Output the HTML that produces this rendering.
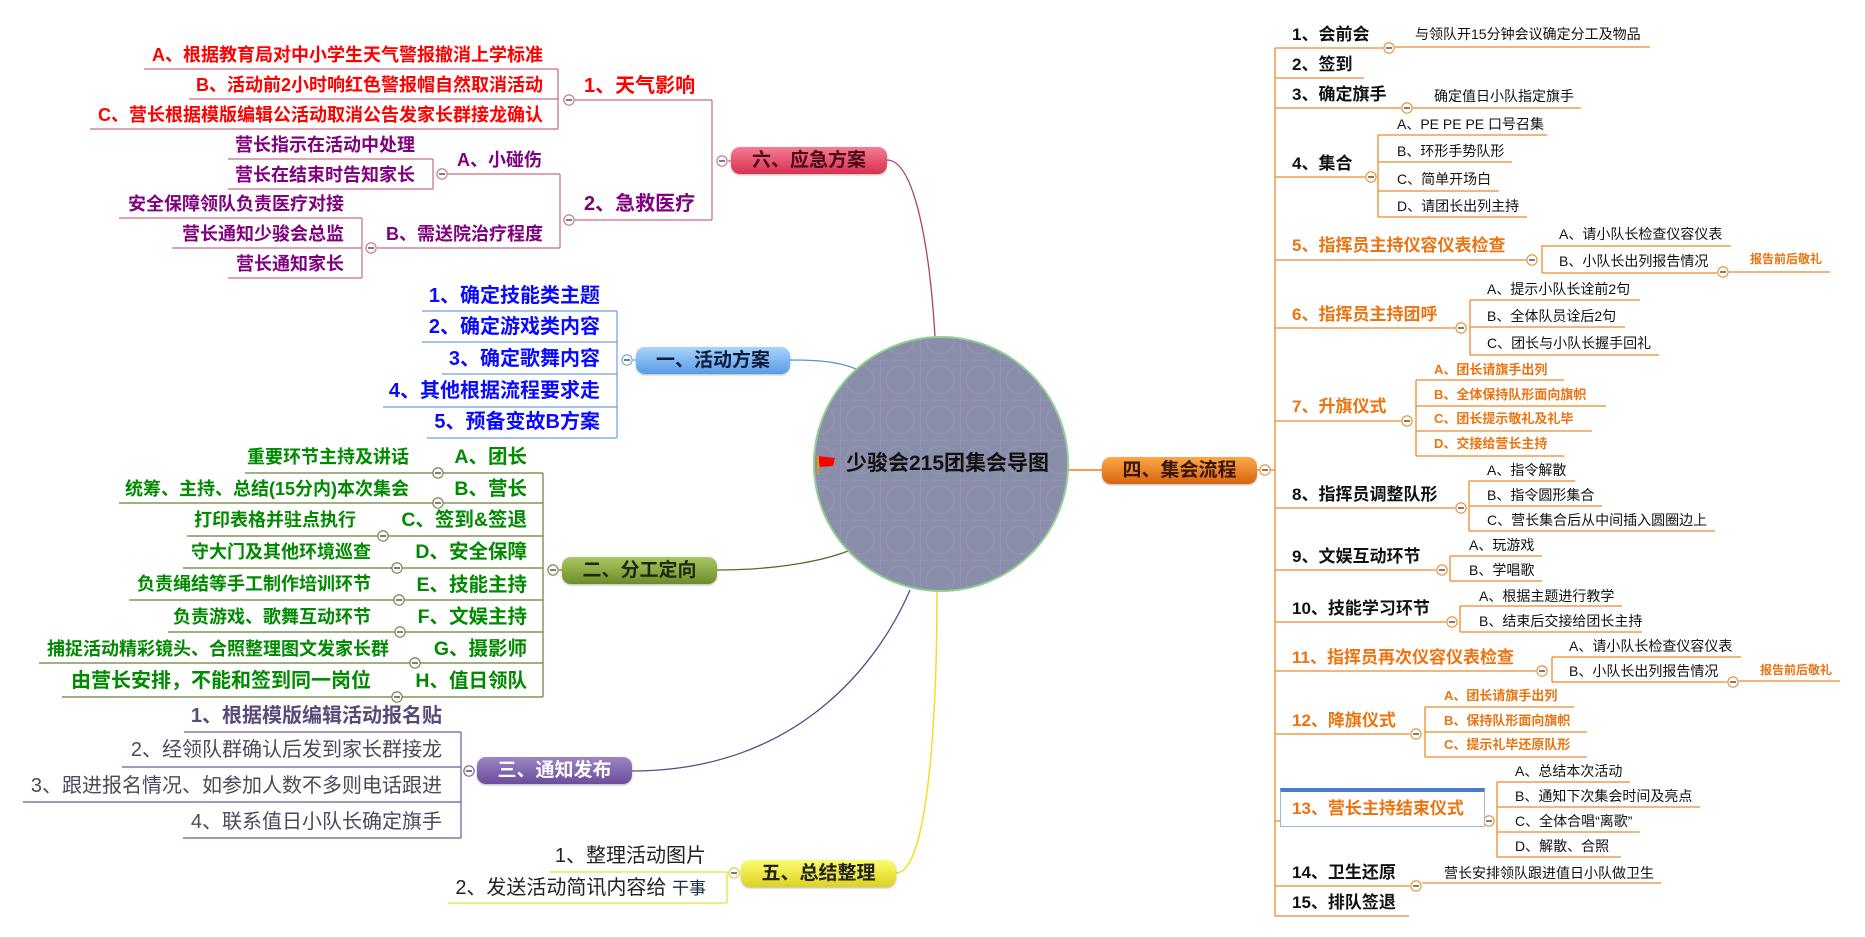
<!DOCTYPE html>
<html><head><meta charset="utf-8">
<style>
body{margin:0;width:1865px;height:937px;background:#fff;position:relative;overflow:hidden;font-family:"Liberation Sans","Noto Sans CJK SC",sans-serif;}
.t{position:absolute;white-space:nowrap;line-height:1;}
.b{font-weight:bold;}
.r{color:#f00;font-size:18px;font-weight:bold;}
.p{color:#80007f;font-size:18px;font-weight:bold;}
.bl{color:#0a0aff;font-size:20px;font-weight:bold;}
.g{color:#008a00;font-weight:bold;}
.k{color:#111;font-size:17px;font-weight:bold;}
.o{color:#ec7310;font-size:17px;font-weight:bold;}
.s{color:#111;font-size:14px;}
.os{color:#ec7310;font-size:13px;font-weight:bold;}
.node{position:absolute;border-radius:9px;font-weight:bold;font-size:19px;text-align:center;line-height:27px;height:27px;width:155px;box-shadow:0 1px 2px rgba(0,0,0,.3);}
svg{position:absolute;left:0;top:0;}
</style></head><body>
<svg width="1865" height="937" viewBox="0 0 1865 937" fill="none">
<defs>
<pattern id="grid" width="40" height="40" patternUnits="userSpaceOnUse"><path d="M0 0H40M0 0V40" stroke="#a8aac4" stroke-width="1"/><circle cx="20" cy="20" r="14" stroke="#9ea0bc" stroke-width="1"/></pattern>
<symbol id="c" viewBox="-7 -7 14 14" overflow="visible"><circle r="6" fill="#fff" stroke="currentColor" stroke-width="1.3"/><path d="M-3.5 0H3.5" stroke="#333" stroke-width="1.5"/></symbol>
</defs>
<path d="M887,160 C915,160 930,250 935,337" stroke="#b0406a" stroke-width="1.3"/>
<path d="M790,360 C820,360 840,362 856,369" stroke="#5a90d0" stroke-width="1.3"/>
<path d="M717,570 C780,570 825,560 848,551" stroke="#5a6a2a" stroke-width="1.3"/>
<path d="M632,771 C800,771 880,660 910,590" stroke="#5a4a8a" stroke-width="1.3"/>
<path d="M896,873 C930,873 937,700 937,592" stroke="#f0e020" stroke-width="1.5"/>
<path d="M1068,470 H1102" stroke="#f0a050" stroke-width="2"/>
<circle cx="941" cy="464" r="127" fill="#8b8eab"/>
<circle cx="941" cy="464" r="127" fill="url(#grid)" opacity=".5"/>
<circle cx="941" cy="464" r="127" stroke="#8fd08f" stroke-width="2"/>
<path d="M818,456 L835,458 L833,466 L820,467 Z" fill="#f00"/><path d="M818,456 V474" stroke="#d8a000" stroke-width="2"/>

<g stroke="#c86a8a" stroke-width="1.2">
<path d="M144,69H558M189,99H558M90,129H558M558,69V129M575,100H712M712,100V220M728,161H731"/>
<path d="M228,159H433M228,189H433M433,159V189M448,174H560M560,174V248M575,220H712"/>
<path d="M119,218H362M172,248H362M228,278H362M362,218V278M377,248H560"/>
</g>
<use href="#c" x="563" y="94" width="12" height="12" style="color:#c86a8a"/>
<use href="#c" x="716" y="155" width="12" height="12" style="color:#c86a8a"/>
<use href="#c" x="436" y="168" width="12" height="12" style="color:#c86a8a"/>
<use href="#c" x="563" y="214" width="12" height="12" style="color:#c86a8a"/>
<use href="#c" x="365" y="242" width="12" height="12" style="color:#c86a8a"/>

<g stroke="#6aa0dc" stroke-width="1.2">
<path d="M422,311H617M422,342H617M442,374H617M383,407H617M427,438H617M617,311V438M633,360H636"/>
</g>
<use href="#c" x="621" y="354" width="12" height="12" style="color:#6aa0dc"/>

<g stroke="#6b7d3a" stroke-width="1.2">
<path d="M245,473H543M119,503H543M187,536H543M183,568H543M129,600H543M168,632H543M39,663H543M62,697H543M543,473V697M559,570H562"/>
</g>
<g style="color:#6b7d3a">
<use href="#c" x="432" y="467" width="12" height="12"/>
<use href="#c" x="432" y="497" width="12" height="12"/>
<use href="#c" x="377" y="530" width="12" height="12"/>
<use href="#c" x="391" y="562" width="12" height="12"/>
<use href="#c" x="393" y="594" width="12" height="12"/>
<use href="#c" x="394" y="626" width="12" height="12"/>
<use href="#c" x="409" y="657" width="12" height="12"/>
<use href="#c" x="391" y="691" width="12" height="12"/>
<use href="#c" x="547" y="564" width="12" height="12"/>
</g>

<g stroke="#6a5a9a" stroke-width="1.2">
<path d="M184,732H461M122,767H461M23,802H461M183,838H461M461,732V838"/>
</g>
<use href="#c" x="463" y="765" width="12" height="12" style="color:#6a5a9a"/>

<g stroke="#e8e040" stroke-width="1.3">
<path d="M549,872H727M448,903H727M727,872V903"/>
</g>
<use href="#c" x="728" y="867" width="12" height="12" style="color:#d8d030"/>

<g stroke="#ec8a2a" stroke-width="1.3">
<path d="M1257,470H1275M1275,48V916"/>
<path d="M1275,48H1383M1395,47H1650"/>
<path d="M1275,78H1364"/>
<path d="M1275,108H1401M1413,108H1581"/>
<path d="M1275,177H1365M1378,135V217M1378,135H1547M1378,162H1512M1378,191H1499M1378,217H1527"/>
<path d="M1275,260H1526M1542,245V273M1542,246H1731M1542,273H1717M1729,272H1830"/>
<path d="M1275,328H1455M1470,300V355M1470,300H1640M1470,327H1625M1470,355H1659"/>
<path d="M1275,421H1401M1416,380V456M1416,380H1564M1416,406H1606M1416,431H1592M1416,456H1564"/>
<path d="M1275,508H1455M1469,481V531M1469,481H1575M1469,506H1602M1469,531H1715"/>
<path d="M1275,570H1436M1450,556V581M1450,556H1542M1450,581H1542"/>
<path d="M1275,622H1446M1460,606V632M1460,606H1622M1460,632H1642"/>
<path d="M1275,671H1536M1552,657V682M1552,657H1741M1552,682H1727M1739,681H1840"/>
<path d="M1275,734H1410M1425,707V757M1425,707H1574M1425,732H1587M1425,757H1587"/>
<path d="M1275,821H1280M1497,782V857M1497,782H1630M1497,807H1700M1497,832H1640M1497,857H1621"/>
<path d="M1275,886H1410M1422,883H1661"/>
<path d="M1275,916H1409"/>
</g>
<g style="color:#ec8a2a">
<use href="#c" x="1259" y="464" width="12" height="12"/>
<use href="#c" x="1383" y="42" width="12" height="12"/>
<use href="#c" x="1401" y="102" width="12" height="12"/>
<use href="#c" x="1365" y="171" width="12" height="12"/>
<use href="#c" x="1526" y="254" width="12" height="12"/>
<use href="#c" x="1717" y="266" width="12" height="12"/>
<use href="#c" x="1455" y="322" width="12" height="12"/>
<use href="#c" x="1401" y="415" width="12" height="12"/>
<use href="#c" x="1455" y="502" width="12" height="12"/>
<use href="#c" x="1436" y="564" width="12" height="12"/>
<use href="#c" x="1446" y="616" width="12" height="12"/>
<use href="#c" x="1536" y="665" width="12" height="12"/>
<use href="#c" x="1727" y="676" width="12" height="12"/>
<use href="#c" x="1410" y="728" width="12" height="12"/>
<use href="#c" x="1483" y="815" width="12" height="12"/>
<use href="#c" x="1410" y="880" width="12" height="12"/>
</g>
</svg>

<div class="t b" style="left:846px;top:453px;font-size:21px;color:#111;">少骏会215团集会导图</div>

<div class="node" style="left:731px;top:147px;width:156px;background:linear-gradient(#f47d92,#d8304f);color:#4a0a18;">六、应急方案</div>
<div class="node" style="left:636px;top:347px;width:154px;background:linear-gradient(#a8d4fc,#5a9ae6);color:#0a1a3a;">一、活动方案</div>
<div class="node" style="left:562px;top:557px;background:linear-gradient(#aac860,#6c8c2c);color:#1a2a08;">二、分工定向</div>
<div class="node" style="left:477px;top:757px;background:linear-gradient(#9c86c4,#6a4c9c);color:#fff;">三、通知发布</div>
<div class="node" style="left:741px;top:860px;background:linear-gradient(#fcfc70,#dcd220);color:#222;">五、总结整理</div>
<div class="node" style="left:1102px;top:457px;background:linear-gradient(#fba848,#d86410);color:#3a1600;">四、集会流程</div>

<div class="t r" style="right:1322px;top:46px;">A、根据教育局对中小学生天气警报撤消上学标准</div>
<div class="t r" style="right:1322px;top:76px;">B、活动前2小时响红色警报帽自然取消活动</div>
<div class="t r" style="right:1322px;top:106px;">C、营长根据模版编辑公活动取消公告发家长群接龙确认</div>
<div class="t r" style="left:584px;top:76px;font-size:20px;">1、天气影响</div>
<div class="t p" style="right:1450px;top:136px;">营长指示在活动中处理</div>
<div class="t p" style="right:1450px;top:166px;">营长在结束时告知家长</div>
<div class="t p" style="left:457px;top:151px;">A、小碰伤</div>
<div class="t p" style="left:584px;top:194px;font-size:20px;">2、急救医疗</div>
<div class="t p" style="right:1521px;top:195px;">安全保障领队负责医疗对接</div>
<div class="t p" style="right:1521px;top:225px;">营长通知少骏会总监</div>
<div class="t p" style="right:1521px;top:255px;">营长通知家长</div>
<div class="t p" style="right:1322px;top:225px;">B、需送院治疗程度</div>

<div class="t bl" style="right:1265px;top:286px;">1、确定技能类主题</div>
<div class="t bl" style="right:1265px;top:317px;">2、确定游戏类内容</div>
<div class="t bl" style="right:1265px;top:349px;">3、确定歌舞内容</div>
<div class="t bl" style="right:1265px;top:381px;">4、其他根据流程要求走</div>
<div class="t bl" style="right:1265px;top:412px;">5、预备变故B方案</div>

<div class="t g" style="right:1456px;top:448px;font-size:18px;">重要环节主持及讲话</div>
<div class="t g" style="right:1456px;top:480px;font-size:18px;">统筹、主持、总结(15分内)本次集会</div>
<div class="t g" style="right:1509px;top:511px;font-size:18px;">打印表格并驻点执行</div>
<div class="t g" style="right:1494px;top:543px;font-size:18px;">守大门及其他环境巡查</div>
<div class="t g" style="right:1494px;top:575px;font-size:18px;">负责绳结等手工制作培训环节</div>
<div class="t g" style="right:1494px;top:608px;font-size:18px;">负责游戏、歌舞互动环节</div>
<div class="t g" style="right:1476px;top:640px;font-size:18px;">捕捉活动精彩镜头、合照整理图文发家长群</div>
<div class="t g" style="right:1494px;top:671px;font-size:20px;">由营长安排，不能和签到同一岗位</div>
<div class="t g" style="right:1338px;top:448px;font-size:19.5px;">A、团长</div>
<div class="t g" style="right:1338px;top:480px;font-size:19.5px;">B、营长</div>
<div class="t g" style="right:1338px;top:511px;font-size:19.5px;">C、签到&amp;签退</div>
<div class="t g" style="right:1338px;top:543px;font-size:19.5px;">D、安全保障</div>
<div class="t g" style="right:1338px;top:576px;font-size:19.5px;">E、技能主持</div>
<div class="t g" style="right:1338px;top:608px;font-size:19.5px;">F、文娱主持</div>
<div class="t g" style="right:1338px;top:640px;font-size:19.5px;">G、摄影师</div>
<div class="t g" style="right:1338px;top:672px;font-size:19.5px;">H、值日领队</div>

<div class="t b" style="right:1423px;top:706px;font-size:20px;color:#5a4a7a;">1、根据模版编辑活动报名贴</div>
<div class="t" style="right:1423px;top:740px;font-size:20px;color:#4a4a5a;">2、经领队群确认后发到家长群接龙</div>
<div class="t" style="right:1423px;top:776px;font-size:20px;color:#4a4a5a;">3、跟进报名情况、如参加人数不多则电话跟进</div>
<div class="t" style="right:1423px;top:812px;font-size:20px;color:#4a4a5a;">4、联系值日小队长确定旗手</div>

<div class="t" style="right:1159px;top:846px;font-size:20px;color:#222;">1、整理活动图片</div>
<div class="t" style="right:1159px;top:878px;font-size:20px;color:#222;">2、发送活动简讯内容给 <span style="font-size:17px;color:#1a2a4a">干事</span></div>

<div class="t k" style="left:1292px;top:26px;">1、会前会</div>
<div class="t s" style="left:1415px;top:27px;">与领队开15分钟会议确定分工及物品</div>
<div class="t k" style="left:1292px;top:56px;">2、签到</div>
<div class="t k" style="left:1292px;top:86px;">3、确定旗手</div>
<div class="t s" style="left:1434px;top:89px;">确定值日小队指定旗手</div>
<div class="t k" style="left:1292px;top:155px;">4、集合</div>
<div class="t s" style="left:1397px;top:117px;">A、PE PE PE 口号召集</div>
<div class="t s" style="left:1397px;top:144px;">B、环形手势队形</div>
<div class="t s" style="left:1397px;top:172px;">C、简单开场白</div>
<div class="t s" style="left:1397px;top:199px;">D、请团长出列主持</div>
<div class="t o" style="left:1292px;top:237px;">5、指挥员主持仪容仪表检查</div>
<div class="t s" style="left:1559px;top:227px;">A、请小队长检查仪容仪表</div>
<div class="t s" style="left:1559px;top:254px;">B、小队长出列报告情况</div>
<div class="t os" style="left:1750px;top:253px;font-size:12px;">报告前后敬礼</div>
<div class="t o" style="left:1292px;top:306px;">6、指挥员主持团呼</div>
<div class="t s" style="left:1487px;top:282px;">A、提示小队长诠前2句</div>
<div class="t s" style="left:1487px;top:309px;">B、全体队员诠后2句</div>
<div class="t s" style="left:1487px;top:336px;">C、团长与小队长握手回礼</div>
<div class="t o" style="left:1292px;top:398px;">7、升旗仪式</div>
<div class="t os" style="left:1434px;top:363px;">A、团长请旗手出列</div>
<div class="t os" style="left:1434px;top:388px;">B、全体保持队形面向旗帜</div>
<div class="t os" style="left:1434px;top:412px;">C、团长提示敬礼及礼毕</div>
<div class="t os" style="left:1434px;top:437px;">D、交接给营长主持</div>
<div class="t k" style="left:1292px;top:486px;">8、指挥员调整队形</div>
<div class="t s" style="left:1487px;top:463px;">A、指令解散</div>
<div class="t s" style="left:1487px;top:488px;">B、指令圆形集合</div>
<div class="t s" style="left:1487px;top:513px;">C、营长集合后从中间插入圆圈边上</div>
<div class="t k" style="left:1292px;top:548px;">9、文娱互动环节</div>
<div class="t s" style="left:1469px;top:538px;">A、玩游戏</div>
<div class="t s" style="left:1469px;top:563px;">B、学唱歌</div>
<div class="t k" style="left:1292px;top:600px;">10、技能学习环节</div>
<div class="t s" style="left:1479px;top:589px;">A、根据主题进行教学</div>
<div class="t s" style="left:1479px;top:614px;">B、结束后交接给团长主持</div>
<div class="t o" style="left:1292px;top:649px;">11、指挥员再次仪容仪表检查</div>
<div class="t s" style="left:1569px;top:639px;">A、请小队长检查仪容仪表</div>
<div class="t s" style="left:1569px;top:664px;">B、小队长出列报告情况</div>
<div class="t os" style="left:1760px;top:664px;font-size:12px;">报告前后敬礼</div>
<div class="t o" style="left:1292px;top:712px;">12、降旗仪式</div>
<div class="t os" style="left:1444px;top:689px;">A、团长请旗手出列</div>
<div class="t os" style="left:1444px;top:714px;">B、保持队形面向旗帜</div>
<div class="t os" style="left:1444px;top:738px;">C、提示礼毕还原队形</div>
<div style="position:absolute;left:1280px;top:788px;width:203px;height:34px;border:1px solid #9ab8e0;border-top:4px solid #4a7ac8;background:#fff;"></div>
<div class="t o" style="left:1292px;top:800px;">13、营长主持结束仪式</div>
<div class="t s" style="left:1515px;top:764px;">A、总结本次活动</div>
<div class="t s" style="left:1515px;top:789px;">B、通知下次集会时间及亮点</div>
<div class="t s" style="left:1515px;top:814px;">C、全体合唱“离歌”</div>
<div class="t s" style="left:1515px;top:839px;">D、解散、合照</div>
<div class="t k" style="left:1292px;top:864px;">14、卫生还原</div>
<div class="t s" style="left:1444px;top:866px;">营长安排领队跟进值日小队做卫生</div>
<div class="t k" style="left:1292px;top:894px;">15、排队签退</div>
</body></html>
